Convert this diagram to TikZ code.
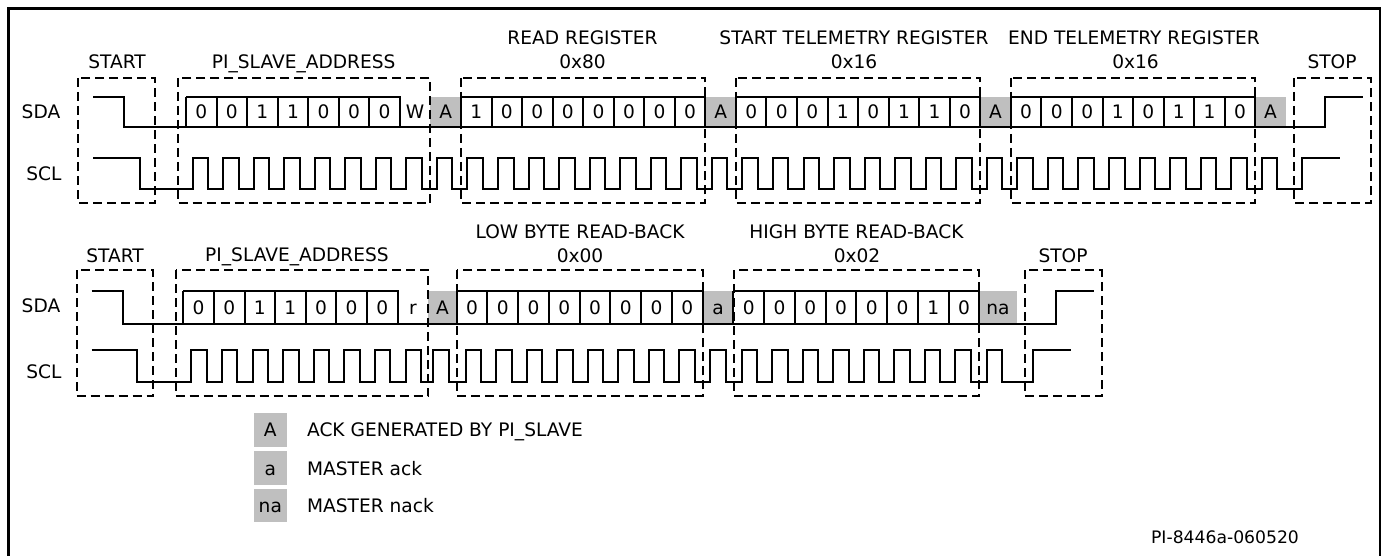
\documentclass[tikz,border=0pt]{standalone}
\usepackage{fontspec}
\setmainfont{DejaVu Sans}
\definecolor{ackgray}{RGB}{191,191,191}
\begin{document}
\begin{tikzpicture}[x=0.5pt,y=-0.5pt,
  sig/.style={line width=1pt, line join=miter},
  cellline/.style={line width=1pt},
  dbox/.style={line width=1pt, dash pattern=on 4.5pt off 2.5pt},
  frame/.style={line width=1.3pt},
  lbl/.style={inner sep=0pt, anchor=base, font=\fontsize{9.3}{11}\selectfont},
  bit/.style={inner sep=0pt, anchor=base, font=\fontsize{9.3}{11}\selectfont},
  leg/.style={inner sep=0pt, anchor=base west, font=\fontsize{9.3}{11}\selectfont},
  tag/.style={inner sep=0pt, anchor=base, font=\fontsize{8.6}{11}\selectfont},
]
\useasboundingbox (0,0) rectangle (1387,556);
\draw[frame] (8.5,8.5) rectangle (1380,566);

% ================= ROW 1 =================
\def\xa{186}
\def\wa{30.55}
% gray ack cells
\foreach \i in {8,17,26,35}
  \fill[ackgray] ({\xa+\i*\wa},97) rectangle ({\xa+(\i+1)*\wa},127.5);
% byte boxes
\foreach \a/\b in {0/6,9/16,18/25,27/34} {
  \draw[cellline] ({\xa+\a*\wa},97) -- ({\xa+(\b+1)*\wa},97) -- ++(0,30.5);
  \foreach \k in {\a,...,\b}
    \draw[cellline] ({\xa+\k*\wa},97) -- ++(0,30.5);
}
% bit texts
\foreach \v [count=\c from 0] in {0,0,1,1,0,0,0,W,A,1,0,0,0,0,0,0,0,A,0,0,0,1,0,1,1,0,A,0,0,0,1,0,1,1,0,A}
  \node[bit] (ra\c) at ({\xa+(\c+0.5)*\wa},119) {\v};
% SDA
\draw[sig] (93.3,97) -- (124.3,97) -- (124.3,127.5) -- (1325,127.5) -- (1325,97) -- (1363,97);
% SCL
\draw[sig] (93.3,158) -- (140,158) -- (140,188.5)
  \foreach \i in {0,...,35} { -- ({\xa+\i*\wa+6.5},188.5) -- ++(0,-30.5) -- ++(15.5,0) -- ++(0,30.5) }
  -- (1302,188.5) -- (1302,158) -- (1340,158);
% dashed frames
\foreach \l/\r in {78/155,177.5/430.4,461/705.4,735.9/980.3,1010.9/1255.3,1294/1371}
  \draw[dbox] (\l,78) rectangle (\r,203);
% labels
\node[lbl] (sda1) at (41,119) {SDA};
\node[lbl] (scl1) at (44,180) {SCL};
\node[lbl] (start1) at (117,68.3) {START};
\node[lbl] (addr1) at (303.7,68.3) {PI\_SLAVE\_ADDRESS};
\node[lbl] (rrA) at (582.5,44.3) {READ REGISTER};
\node[lbl] (rrB) at (582.5,68.3) {0x80};
\node[lbl] (strA) at (854,44.3) {START TELEMETRY REGISTER};
\node[lbl] (strB) at (854,68.3) {0x16};
\node[lbl] (etrA) at (1134,44.3) {END TELEMETRY REGISTER};
\node[lbl] (etrB) at (1135.5,68.3) {0x16};
\node[lbl] (stop1) at (1332,68.3) {STOP};

% ================= ROW 2 =================
% gray cells
\fill[ackgray] (428.3,291) rectangle (456.7,324.3);
\fill[ackgray] (702.7,291) rectangle (733.3,324.3);
\fill[ackgray] (979.3,291) rectangle (1016.7,324.3);
% address box
\draw[cellline] (183.3,291) -- (397.5,291) -- ++(0,33.3);
\foreach \k in {0,...,6}
  \draw[cellline] ({183.3+\k*30.6},291) -- ++(0,33.3);
% low byte box
\draw[cellline] (456.7,291) -- (702.7,291) -- ++(0,33.3);
\foreach \k in {0,...,7}
  \draw[cellline] ({456.7+\k*30.75},291) -- ++(0,33.3);
% high byte box
\draw[cellline] (733.3,291) -- (979.3,291) -- ++(0,33.3);
\foreach \k in {0,...,7}
  \draw[cellline] ({733.3+\k*30.75},291) -- ++(0,33.3);
% texts
\foreach \v [count=\c from 0] in {0,0,1,1,0,0,0}
  \node[bit] (rb\c) at ({183.3+(\c+0.5)*30.6},314.5) {\v};
\node[bit] (rbr) at (412.9,314.5) {r};
\node[bit] (rbA) at (442.5,314.5) {A};
\foreach \v [count=\c from 0] in {0,0,0,0,0,0,0,0}
  \node[bit] (rl\c) at ({456.7+(\c+0.5)*30.75},314.5) {\v};
\node[bit] (rba) at (718,314.5) {a};
\foreach \v [count=\c from 0] in {0,0,0,0,0,0,1,0}
  \node[bit] (rh\c) at ({733.3+(\c+0.5)*30.75},314.5) {\v};
\node[bit] (rbna) at (998,314.5) {na};
% SDA
\draw[sig] (91.7,291) -- (122.7,291) -- (122.7,324.3) -- (1056,324.3) -- (1056,291) -- (1094,291);
% SCL
\draw[sig] (91.7,350) -- (136.7,350) -- (136.7,381.5)
  \foreach \i in {0,...,7} { -- ({191.3+\i*30.6},381.5) -- ++(0,-31.5) -- ++(15.5,0) -- ++(0,31.5) }
  -- (433.3,381.5) -- ++(0,-31.5) -- ++(15.5,0) -- ++(0,31.5)
  \foreach \i in {0,...,7} { -- ({465.7+\i*30.5},381.5) -- ++(0,-31.5) -- ++(15.5,0) -- ++(0,31.5) }
  -- (710,381.5) -- ++(0,-31.5) -- ++(15.5,0) -- ++(0,31.5)
  \foreach \i in {0,...,7} { -- ({741.7+\i*30.5},381.5) -- ++(0,-31.5) -- ++(15.5,0) -- ++(0,31.5) }
  -- (986.7,381.5) -- ++(0,-31.5) -- ++(15.5,0) -- ++(0,31.5)
  -- (1033.3,381.5) -- (1033.3,350) -- (1070.7,350);
% dashed frames
\foreach \l/\r in {76.7/153.3,175.7/428.3,457.3/702.7,734.3/979.3,1025/1101.7}
  \draw[dbox] (\l,270) rectangle (\r,396);
% labels
\node[lbl] (sda2) at (41,312) {SDA};
\node[lbl] (scl2) at (44,378) {SCL};
\node[lbl] (start2) at (115,262.3) {START};
\node[lbl] (addr2) at (297,261.3) {PI\_SLAVE\_ADDRESS};
\node[lbl] (lbA) at (580,238.3) {LOW BYTE READ-BACK};
\node[lbl] (lbB) at (580,262.3) {0x00};
\node[lbl] (hbA) at (856.5,238.3) {HIGH BYTE READ-BACK};
\node[lbl] (hbB) at (857,262.3) {0x02};
\node[lbl] (stop2) at (1063,262.3) {STOP};

% ================= LEGEND =================
\fill[ackgray] (254,413.3) rectangle (286.7,446.7);
\fill[ackgray] (254,451) rectangle (286.7,485);
\fill[ackgray] (254,489) rectangle (286.7,522.3);
\node[bit] (legA) at (270.3,436.7) {A};
\node[bit] (lega) at (270.3,475) {a};
\node[bit] (legna) at (270.3,512.3) {na};
\node[leg] (legtA) at (306.7,436.7) {ACK GENERATED BY PI\_SLAVE};
\node[leg] (legta) at (306.7,475) {MASTER ack};
\node[leg] (legtna) at (306.7,512.3) {MASTER nack};
\node[tag] (code) at (1225,543.3) {PI-8446a-060520};
\end{tikzpicture}
\end{document}
